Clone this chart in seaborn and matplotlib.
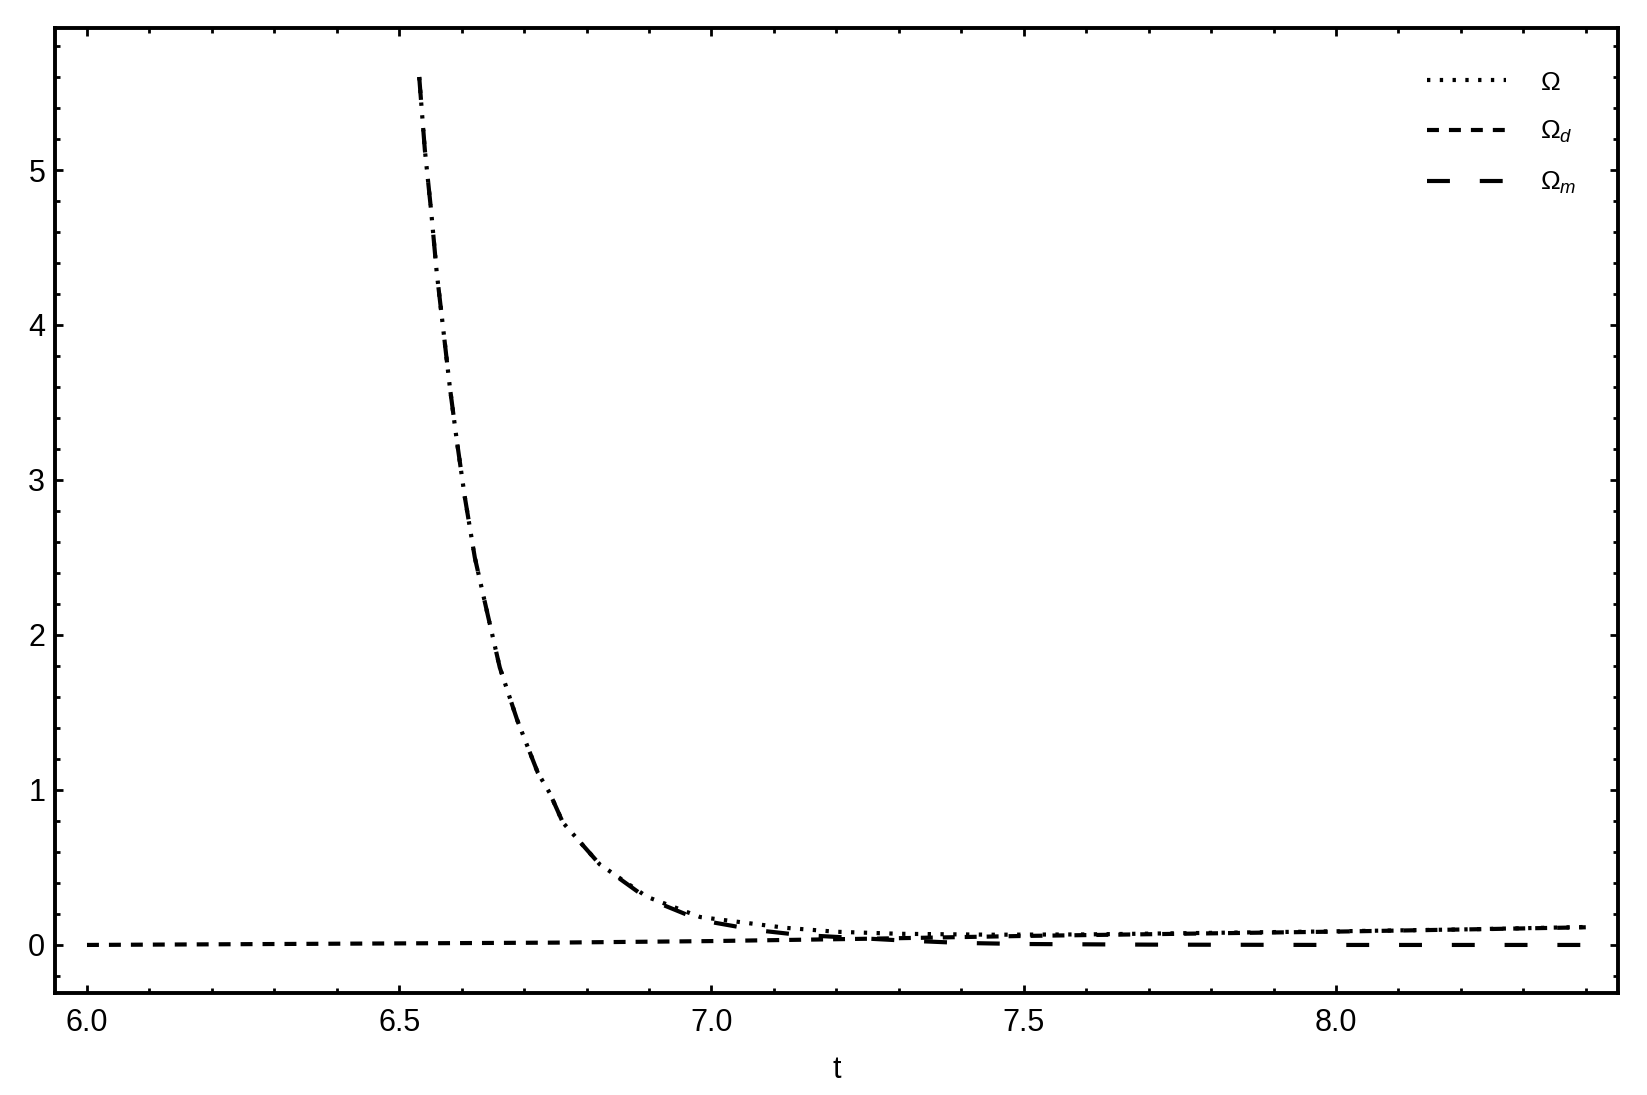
import matplotlib
matplotlib.use("Agg")
import matplotlib.pyplot as plt
from matplotlib.ticker import MultipleLocator
import seaborn as sns

# Omega (dotted)
t_omega = [6.532, 6.541, 6.551, 6.560, 6.570, 6.581, 6.592, 6.605, 6.621, 6.640,
           6.661, 6.689, 6.722, 6.741, 6.762, 6.821, 6.897, 6.982, 7.08, 7.12,
           7.20, 7.30, 7.45, 7.60, 7.80, 8.00, 8.20, 8.40]
omega = [5.60, 5.13, 4.74, 4.34, 3.99, 3.60, 3.26, 2.89, 2.50, 2.16,
         1.79, 1.45, 1.11, 0.98, 0.79, 0.52, 0.31, 0.18, 0.13, 0.11,
         0.085, 0.072, 0.066, 0.068, 0.078, 0.088, 0.100, 0.116]

# Omega_d (short dashes)
t_omega_d = [6.0, 6.25, 6.5, 6.75, 7.0, 7.25, 7.5, 7.75, 8.0, 8.25, 8.4]
omega_d = [0.0, 0.005, 0.010, 0.015, 0.025, 0.040, 0.058, 0.072, 0.086, 0.103, 0.114]

# Omega_m (long dashes)
t_omega_m = [6.532, 6.541, 6.551, 6.560, 6.570, 6.581, 6.592, 6.605, 6.621, 6.640,
             6.661, 6.689, 6.722, 6.741, 6.762, 6.821, 6.897, 6.982, 7.073, 7.14,
             7.30, 7.40, 7.50, 7.70, 8.00, 8.40]
omega_m = [5.60, 5.13, 4.74, 4.34, 3.99, 3.60, 3.26, 2.89, 2.50, 2.16,
           1.79, 1.45, 1.11, 0.98, 0.79, 0.52, 0.30, 0.16, 0.095, 0.065,
           0.030, 0.013, 0.006, 0.002, 0.0, 0.0]

x_major = [6.0, 6.5, 7.0, 7.5, 8.0]
y_major = [0, 1, 2, 3, 4, 5]

sns.set_theme(style="ticks")
plt.rcParams["font.family"] = ["Liberation Sans", "DejaVu Sans"]
plt.rcParams["mathtext.fontset"] = "custom"
plt.rcParams["mathtext.rm"] = "Liberation Sans"
plt.rcParams["mathtext.it"] = "Liberation Sans:italic"
plt.rcParams["lines.scale_dashes"] = False
plt.rcParams["text.color"] = "black"
plt.rcParams["axes.labelcolor"] = "black"
plt.rcParams["xtick.color"] = "black"
plt.rcParams["ytick.color"] = "black"

fig = plt.figure(figsize=(16.47, 10.95), dpi=100)
ax = fig.add_axes([0.0334, 0.0932, 0.9490, 0.8812])

lw = 3.0
sns.lineplot(x=t_omega, y=omega, ax=ax, color="black", lw=lw, sort=False,
             linestyle=(0, (2.4, 6.8)), label=r"$\Omega$")
sns.lineplot(x=t_omega_d, y=omega_d, ax=ax, color="black", lw=lw, sort=False,
             linestyle=(0, (8.6, 7.2)), label=r"$\Omega_d$")
sns.lineplot(x=t_omega_m, y=omega_m, ax=ax, color="black", lw=lw, sort=False,
             linestyle=(0, (16.5, 21.5)), label=r"$\Omega_m$")

ax.set_xlim(5.9488, 8.4516)
ax.set_ylim(-0.3097, 5.916)
ax.set_xticks(x_major)
ax.set_xticklabels([f"{v:.1f}" for v in x_major])
ax.set_yticks(y_major)
ax.set_yticklabels([str(v) for v in y_major])
ax.xaxis.set_minor_locator(MultipleLocator(0.1))
ax.yaxis.set_minor_locator(MultipleLocator(0.2))

for side in ["left", "right", "top", "bottom"]:
    ax.spines[side].set_visible(True)
    ax.spines[side].set_linewidth(2.8)
    ax.spines[side].set_color("black")

ax.tick_params(which="both", direction="in", top=True, right=True,
               color="black", labelcolor="black", width=2.0)
ax.tick_params(which="major", length=6)
ax.tick_params(which="minor", length=3.5)
ax.tick_params(axis="x", which="major", labelsize=22, pad=11)
ax.tick_params(axis="y", which="major", labelsize=22, pad=7)
ax.grid(False)

ax.set_xlabel("t", fontsize=22, labelpad=12, color="black")
ax.set_ylabel("")

leg = ax.legend(loc="upper left", bbox_to_anchor=(0.8664, 0.9355),
                bbox_transform=fig.transFigure, frameon=False, fontsize=19,
                handlelength=3.0, handletextpad=1.3, labelspacing=0.93,
                borderpad=0, borderaxespad=0)
for txt in leg.get_texts():
    txt.set_color("black")

fig.savefig("out.png", dpi=100)
